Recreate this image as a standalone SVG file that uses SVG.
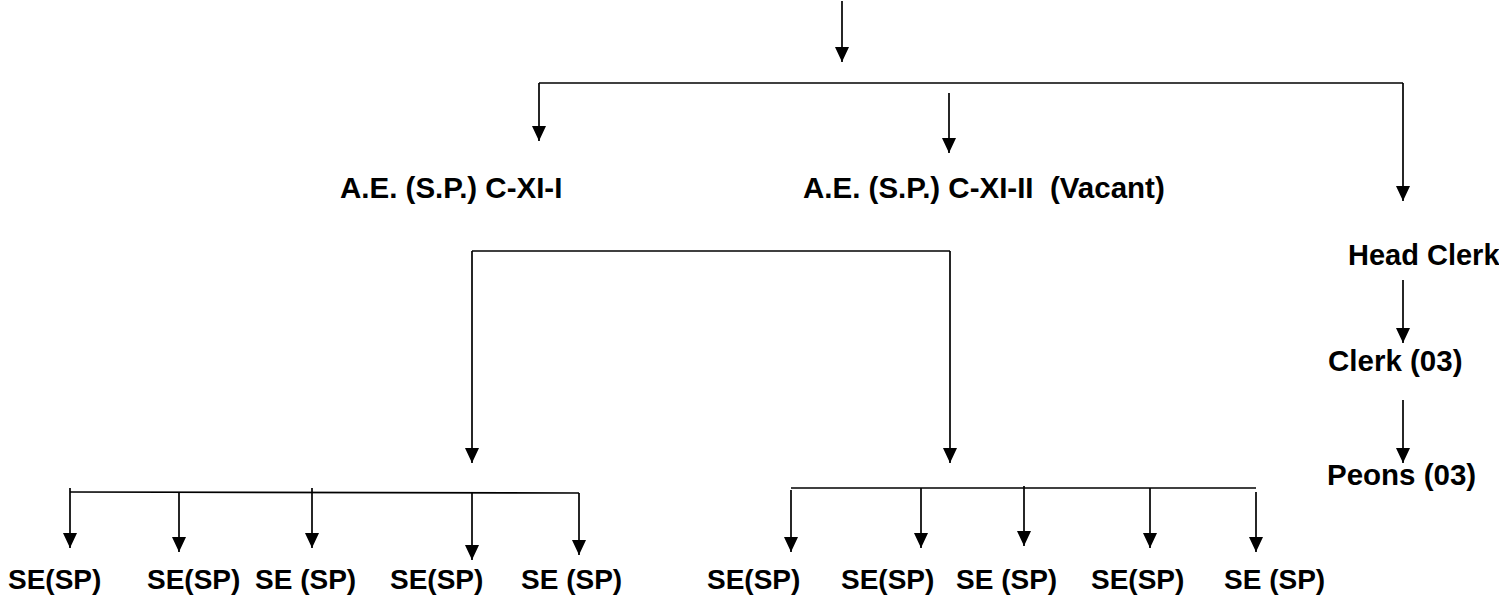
<svg xmlns="http://www.w3.org/2000/svg" width="1499" height="597" viewBox="0 0 1499 597">
<style>
.t{font-family:"Liberation Sans",Arial,sans-serif;font-weight:bold;font-size:28px;fill:#000}
.b{font-size:29.5px}
.c{stroke:#000;stroke-width:1.7;fill:none}
.a{stroke:#000;stroke-width:1.7;fill:none;marker-end:url(#ah)}
</style>
<defs>
<marker id="ah" viewBox="0 0 15 14" refX="15" refY="7" markerWidth="15" markerHeight="14" markerUnits="userSpaceOnUse" orient="auto">
<path d="M0,0 L15,7 L0,14 z" fill="#000"/>
</marker>
</defs>
<rect width="1499" height="597" fill="#fff"/>
<g id="connectors">
<line class="a" x1="842" y1="1" x2="842" y2="62"/>
<line class="c" x1="539" y1="83" x2="1403" y2="83"/>
<line class="a" x1="539" y1="83" x2="539" y2="141"/>
<line class="a" x1="949" y1="93" x2="949" y2="153"/>
<line class="a" x1="1403" y1="83" x2="1403" y2="201"/>
<line class="a" x1="1403" y1="280" x2="1403" y2="343"/>
<line class="a" x1="1403" y1="400" x2="1403" y2="463"/>
<line class="c" x1="472" y1="251" x2="950" y2="251"/>
<line class="a" x1="472" y1="251" x2="472" y2="463"/>
<line class="a" x1="950" y1="251" x2="950" y2="463"/>
<line class="c" x1="70" y1="492" x2="579" y2="493"/>
<line class="a" x1="70" y1="488" x2="70" y2="548"/>
<line class="a" x1="179" y1="492" x2="179" y2="552"/>
<line class="a" x1="312" y1="488" x2="312" y2="548"/>
<line class="a" x1="472" y1="492" x2="472" y2="560"/>
<line class="a" x1="579" y1="493" x2="579" y2="555"/>
<line class="c" x1="791" y1="488" x2="1256" y2="488"/>
<line class="a" x1="791" y1="490" x2="791" y2="552"/>
<line class="a" x1="921" y1="488" x2="921" y2="548"/>
<line class="a" x1="1024" y1="486" x2="1024" y2="546"/>
<line class="a" x1="1150" y1="488" x2="1150" y2="548"/>
<line class="a" x1="1256" y1="492" x2="1256" y2="552"/>
</g>
<g id="ae1"><text class="t b" x="340" y="198">A.E. (S.P.) C-XI-I</text></g>
<g id="ae2"><text class="t b" x="803" y="198" xml:space="preserve">A.E. (S.P.) C-XI-II  (Vacant)</text></g>
<g id="headclerk"><text class="t" x="1348" y="265" style="font-size:29px">Head Clerk</text></g>
<g id="clerk"><text class="t b" x="1328" y="371">Clerk (03)</text></g>
<g id="peons"><text class="t b" x="1327" y="485">Peons (03)</text></g>
<g id="se1"><text class="t" x="8" y="589">SE(SP)</text></g>
<g id="se2"><text class="t" x="147" y="589">SE(SP)</text></g>
<g id="se3"><text class="t" x="255" y="589">SE (SP)</text></g>
<g id="se4"><text class="t" x="390" y="589">SE(SP)</text></g>
<g id="se5"><text class="t" x="521" y="589">SE (SP)</text></g>
<g id="se6"><text class="t" x="707" y="589">SE(SP)</text></g>
<g id="se7"><text class="t" x="841" y="589">SE(SP)</text></g>
<g id="se8"><text class="t" x="956" y="589">SE (SP)</text></g>
<g id="se9"><text class="t" x="1091" y="589">SE(SP)</text></g>
<g id="se10"><text class="t" x="1224" y="589">SE (SP)</text></g>
</svg>
